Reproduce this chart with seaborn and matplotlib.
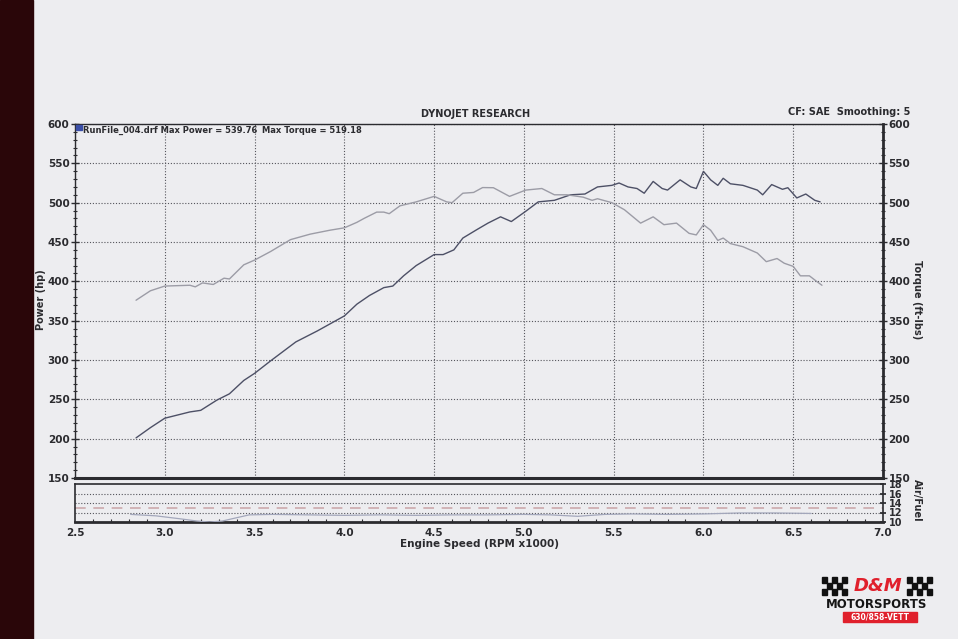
import numpy as np
import pandas as pd
import matplotlib
matplotlib.use("Agg")
import matplotlib.pyplot as plt
from matplotlib.patches import Rectangle
from matplotlib.ticker import MultipleLocator
import seaborn as sns

# ------------------------------------------------------------
# Data (RPM x1000)
# ------------------------------------------------------------
rpm_power = [2.84, 2.92, 3.00, 3.14, 3.20, 3.29, 3.36, 3.44, 3.50, 3.59,
             3.73, 3.85, 4.00, 4.07, 4.14, 4.22, 4.27, 4.33, 4.40, 4.50,
             4.55, 4.61, 4.66, 4.74, 4.80, 4.87, 4.93, 5.01, 5.08, 5.17,
             5.26, 5.34, 5.41, 5.49, 5.53, 5.58, 5.63, 5.67, 5.72, 5.77,
             5.80, 5.87, 5.93, 5.96, 6.00, 6.04, 6.08, 6.11, 6.15, 6.22,
             6.30, 6.33, 6.38, 6.44, 6.47, 6.52, 6.57, 6.62, 6.65]
power_hp = [201, 214, 226, 234, 236, 249, 257, 274, 283, 299,
            323, 337, 356, 371, 382, 392, 394, 407, 420, 434,
            434, 440, 455, 466, 474, 482, 476, 489, 501, 503,
            510, 511, 520, 522, 525, 520, 518, 512, 527, 518,
            516, 529, 520, 518, 539.8, 529, 522, 531, 524, 522,
            516, 510, 523, 517, 519, 506, 511, 503, 501]

rpm_torque = [2.84, 2.92, 3.00, 3.14, 3.17, 3.21, 3.27, 3.33, 3.36, 3.44,
              3.50, 3.59, 3.70, 3.81, 3.92, 4.00, 4.07, 4.11, 4.18, 4.22,
              4.25, 4.31, 4.40, 4.50, 4.57, 4.60, 4.66, 4.72, 4.77, 4.83,
              4.92, 5.01, 5.10, 5.17, 5.24, 5.33, 5.38, 5.41, 5.49, 5.56,
              5.65, 5.72, 5.78, 5.85, 5.92, 5.96, 6.00, 6.04, 6.08, 6.11,
              6.15, 6.22, 6.30, 6.35, 6.41, 6.45, 6.50, 6.54, 6.59, 6.63,
              6.66]
torque_ftlb = [376, 388, 394, 395, 393, 398, 396, 404, 403, 421,
               427, 438, 453, 460, 465, 468, 475, 480, 488, 488,
               486, 496, 501, 508, 501, 500, 512, 513, 519.2, 519,
               508, 516, 518, 510, 510, 507, 503, 505, 500, 491,
               474, 482, 472, 474, 461, 459, 472, 465, 452, 455,
               448, 444, 436, 425, 429, 423, 419, 407, 407, 400,
               395]

rpm_afr = [2.81, 2.95, 3.08, 3.18, 3.25, 3.32, 3.40, 3.47, 3.60, 3.80,
           4.00, 4.20, 4.40, 4.60, 4.80, 5.00, 5.15, 5.30, 5.45, 5.60,
           5.80, 6.00, 6.20, 6.40, 6.60]
afr = [11.6, 11.3, 10.7, 10.2, 10.0, 10.2, 10.9, 11.5, 11.6, 11.5,
       11.4, 11.5, 11.4, 11.5, 11.5, 11.6, 11.5, 11.2, 11.6, 11.7,
       11.6, 11.7, 11.9, 11.9, 11.8]

afr_dotted = [12, 14, 16]
afr_target = 13

x_ticks = [2.5, 3.0, 3.5, 4.0, 4.5, 5.0, 5.5, 6.0, 6.5, 7.0]
y_ticks = list(range(150, 601, 50))
afr_ticks = [10, 12, 14, 16, 18]

df_power = pd.DataFrame({"rpm": rpm_power, "value": power_hp})
df_torque = pd.DataFrame({"rpm": rpm_torque, "value": torque_ftlb})
df_afr = pd.DataFrame({"rpm": rpm_afr, "afr": afr})

# ------------------------------------------------------------
# Style
# ------------------------------------------------------------
paper = "#ededf0"
ink = "#2b2b2f"
sns.set_theme(style="white", rc={"axes.facecolor": paper, "figure.facecolor": paper})
plt.rcParams["font.family"] = ["DejaVu Sans"]
plt.rcParams["font.weight"] = "bold"

fig = plt.figure(figsize=(9.58, 6.39), dpi=100)

# dark edge of the photo on the left
fig.patches.append(Rectangle((0, 0), 33 / 958, 1, transform=fig.transFigure,
                             color="#2a0609", zorder=0))

ax = fig.add_axes([75 / 958, 1 - 478 / 639, 808 / 958, 354 / 639])
ax_afr = fig.add_axes([75 / 958, 1 - 522 / 639, 808 / 958, 38 / 639])

grid_kw = dict(color="#55555c", lw=0.8, ls=(0, (1, 1.6)))

# ------------------------------------------------------------
# Main panel: power + torque
# ------------------------------------------------------------
sns.lineplot(data=df_power, x="rpm", y="value", ax=ax, color="#4d5066",
             lw=1.0, estimator=None, zorder=3)
sns.lineplot(data=df_torque, x="rpm", y="value", ax=ax, color="#9c9ca6",
             lw=1.0, estimator=None, zorder=3)

ax.set_xlim(2.5, 7.0)
ax.set_ylim(150, 600)
ax.set_xticks(x_ticks)
ax.set_yticks(y_ticks)
ax.yaxis.set_minor_locator(MultipleLocator(10))
ax.grid(True, which="major", **grid_kw)
ax.tick_params(axis="x", bottom=False, labelbottom=False)
ax.tick_params(axis="y", which="major", direction="inout", length=6, width=1,
               color=ink, labelsize=7.5, labelcolor=ink, pad=1)
ax.tick_params(axis="y", which="minor", direction="inout", length=3, width=0.8,
               color=ink, left=True)
for lab in ax.get_yticklabels():
    lab.set_fontweight("bold")
ax.set_xlabel("")
ax.set_ylabel("")
fig.text(41 / 958, 1 - 300 / 639, "Power (hp)", fontsize=7, fontweight="bold",
         color=ink, rotation=90, ha="center", va="center")
for side, lw in [("left", 1.0), ("top", 1.0), ("right", 2.0), ("bottom", 2.2)]:
    ax.spines[side].set_visible(True)
    ax.spines[side].set_linewidth(lw)
    ax.spines[side].set_color(ink)

ax2 = ax.twinx()
ax2.set_ylim(150, 600)
ax2.set_yticks(y_ticks)
ax2.yaxis.set_minor_locator(MultipleLocator(10))
ax2.tick_params(axis="y", which="major", direction="inout", length=6, width=1,
                color=ink, labelsize=7.5, labelcolor=ink, pad=1)
ax2.tick_params(axis="y", which="minor", direction="inout", length=3, width=0.8,
                color=ink, right=True)
for lab in ax2.get_yticklabels():
    lab.set_fontweight("bold")
ax2.set_ylabel("")
fig.text(917 / 958, 1 - 300 / 639, "Torque (ft-lbs)", fontsize=7, fontweight="bold",
         color=ink, rotation=-90, ha="center", va="center")
ax2.grid(False)
for s in ax2.spines.values():
    s.set_visible(False)

# run legend inside top-left corner
ax.add_patch(Rectangle((0.001, 0.982), 0.008, 0.016, transform=ax.transAxes,
                       color="#3b4fa8", zorder=5, clip_on=False))
ax.text(0.010, 0.994, "RunFile_004.drf Max Power = 539.76", transform=ax.transAxes,
        fontsize=6.0, fontweight="bold", color=ink, va="top", ha="left", zorder=5)
ax.text(0.232, 0.994, "Max Torque = 519.18", transform=ax.transAxes,
        fontsize=6.0, fontweight="bold", color=ink, va="top", ha="left", zorder=5)

# ------------------------------------------------------------
# Air/Fuel panel
# ------------------------------------------------------------
for v in afr_dotted:
    ax_afr.axhline(v, **grid_kw)
ax_afr.axhline(afr_target, color="#c9a3a6", lw=1.1, ls=(0, (7, 5)))
sns.lineplot(data=df_afr, x="rpm", y="afr", ax=ax_afr, color="#a3a7bb",
             lw=0.9, estimator=None, zorder=3)
ax_afr.set_xlim(2.5, 7.0)
ax_afr.set_ylim(10, 18)
ax_afr.set_xticks(x_ticks)
ax_afr.set_xticklabels([f"{t:.1f}" for t in x_ticks])
ax_afr.xaxis.set_minor_locator(MultipleLocator(0.1))
ax_afr.set_yticks([])
ax_afr.tick_params(axis="x", which="major", direction="in", length=4, width=1,
                   color=ink, labelsize=7.5, labelcolor=ink, pad=4)
ax_afr.tick_params(axis="x", which="minor", direction="in", length=2.5, width=0.8,
                   color=ink, bottom=True)
for lab in ax_afr.get_xticklabels():
    lab.set_fontweight("bold")
ax_afr.set_xlabel("Engine Speed (RPM x1000)", fontsize=7.5, fontweight="bold",
                  color=ink, labelpad=1)
ax_afr.set_ylabel("")
for s in ax_afr.spines.values():
    s.set_visible(True)
    s.set_color(ink)
    s.set_linewidth(1.2)
ax_afr.spines["bottom"].set_linewidth(2.0)

ax_afr2 = ax_afr.twinx()
ax_afr2.set_ylim(10, 18)
ax_afr2.set_yticks(afr_ticks)
ax_afr2.tick_params(axis="y", direction="inout", length=4, color=ink,
                    labelsize=7, labelcolor=ink, pad=2)
for lab in ax_afr2.get_yticklabels():
    lab.set_fontweight("bold")
ax_afr2.set_ylabel("")
fig.text(917 / 958, 1 - 500 / 639, "Air/Fuel", fontsize=7, fontweight="bold",
         color=ink, rotation=-90, ha="center", va="center")
for s in ax_afr2.spines.values():
    s.set_visible(False)

# ------------------------------------------------------------
# Header texts
# ------------------------------------------------------------
fig.text(476 / 958, 1 - 114 / 639, "DYNOJET RESEARCH", fontsize=7, fontweight="bold",
         color=ink, ha="center", va="center")
fig.text(910 / 958, 1 - 112 / 639, "CF: SAE  Smoothing: 5", fontsize=7,
         fontweight="bold", color=ink, ha="right", va="center")

# ------------------------------------------------------------
# Shop logo (bottom right)
# ------------------------------------------------------------
for i in range(5):
    for j in range(3):
        if (i + j) % 2 == 0:
            for x0 in (822, 907):
                fig.patches.append(Rectangle(((x0 + i * 5) / 958, 1 - (595 - j * 6) / 639),
                                             5 / 958, 6 / 639, transform=fig.transFigure,
                                             color="#111111", zorder=4))
fig.text(878 / 958, 1 - 586 / 639, "D&M", fontsize=13, fontweight="bold",
         color="#e0202c", ha="center", va="center", fontstyle="italic", zorder=6)
fig.text(877 / 958, 1 - 604 / 639, "MOTORSPORTS", fontsize=8.5, fontweight="bold",
         color="#151515", ha="center", va="center")
fig.patches.append(Rectangle((843 / 958, 1 - 622 / 639), 74 / 958, 10 / 639,
                             transform=fig.transFigure, color="#e0202c", zorder=4))
fig.text(880 / 958, 1 - 617 / 639, "630/858-VETT", fontsize=5.5, fontweight="bold",
         color="white", ha="center", va="center", zorder=5)

fig.savefig("out.png", dpi=100, facecolor=fig.get_facecolor())
